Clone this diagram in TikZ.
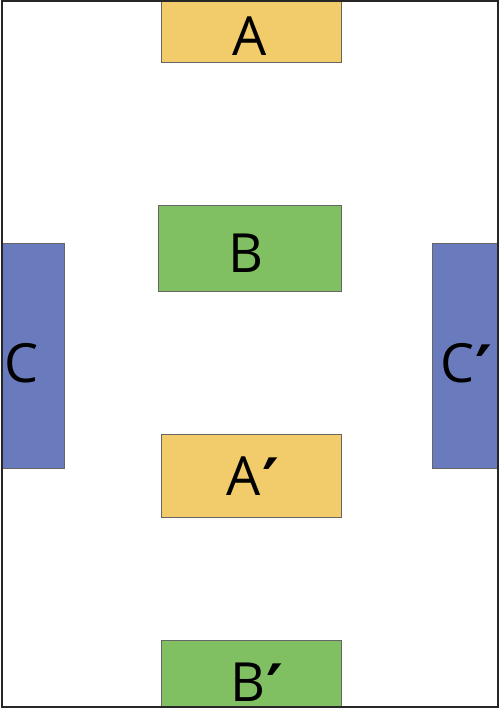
\documentclass[tikz,border=0pt]{standalone}
\usepackage{fontspec}
\setmainfont{Open Sans}
\newfontfamily\primefont{DejaVu Sans}
\definecolor{ayellow}{HTML}{F2CC6B}
\definecolor{bgreen}{HTML}{80BF62}
\definecolor{cblue}{HTML}{6A7BBD}
\newcommand{\pr}{\kern1pt\raisebox{-9pt}{\primefont\bfseries\fontsize{64}{64}\selectfont ′}}
\begin{document}
\begin{tikzpicture}[x=1pt,y=-1pt,
  box/.style={draw=black!60, line width=0.8pt},
  lbl/.style={inner sep=0pt, anchor=base, font=\fontsize{54}{54}\selectfont}]
\useasboundingbox (0,0) rectangle (500,708);
\fill[white] (0,0) rectangle (500,708);
% boxes
\draw[box, fill=ayellow] (161,1) rectangle (341,62);
\draw[box, fill=bgreen] (158,205) rectangle (341,291);
\draw[box, fill=cblue] (2,243) rectangle (64,468);
\draw[box, fill=cblue] (432,243) rectangle (498,468);
\draw[box, fill=ayellow] (161,434) rectangle (341,517);
\draw[box, fill=bgreen] (161,640) rectangle (341,707);
% frame
\draw[line width=2pt, black!85] (2,1) rectangle (498,707);
% labels
\node[lbl] (tA) at (250,56) {A};
\node[lbl] (tB) at (246,272) {B};
\node[lbl] (tC) at (22,382) {C};
\node[lbl] (tCp) at (466,382) {C\pr};
\node[lbl] (tAp) at (253,495) {A\pr};
\node[lbl] (tBp) at (257,701) {B\pr};
\end{tikzpicture}
\end{document}
